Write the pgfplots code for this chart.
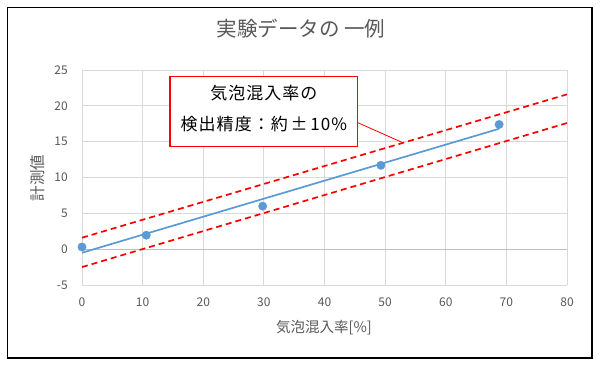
\documentclass[border=0pt]{standalone}
\usepackage{fontspec}
\setmainfont{Noto Sans CJK JP}
\newfontfamily\boxfont[LetterSpace=6]{Noto Sans CJK JP}
\usepackage{pgfplots}
\pgfplotsset{compat=1.18}
\definecolor{txtgray}{HTML}{595959}
\definecolor{gridgray}{HTML}{D9D9D9}
\definecolor{zerogray}{HTML}{BFBFBF}
\definecolor{xlblue}{HTML}{5B9BD5}
\begin{document}
\begin{tikzpicture}[x=1pt,y=1pt]
\path[fill=white] (0,0) rectangle (600,366);
\draw[black, line width=1.5pt] (7.5,8) rectangle (592,358.5);
\begin{axis}[
  at={(82pt,81pt)}, anchor=south west,
  scale only axis, width=485pt, height=215pt,
  xmin=0, xmax=80, ymin=-5, ymax=25,
  xtick={0,10,...,80}, ytick={-5,0,...,25},
  grid=major, major grid style={gridgray, line width=0.8pt},
  axis line style={draw=none}, major tick length=0pt,
  tick label style={font=\fontsize{12}{14}\selectfont, text=txtgray},
  /pgf/number format/assume math mode=true,
  yticklabel style={inner sep=0pt, xshift=-14pt},
  xticklabel style={inner sep=0pt, yshift=-13pt},
  title={実験データの 一例},
  title style={font=\fontsize{20.5}{23}\selectfont, text=txtgray, at={(axis description cs:0.4515,1.163)}, anchor=center},
  xlabel={気泡混入率[\%]},
  xlabel style={font=\fontsize{14.5}{16}\selectfont, text=txtgray, at={(axis description cs:0.499,-0.2)}, anchor=center},
  ylabel={計測値},
  ylabel style={font=\fontsize{15.5}{17}\selectfont, text=txtgray, at={(axis description cs:-0.0907,0.498)}, anchor=center},
  clip=false,
]
\addplot[zerogray, line width=1pt, forget plot] coordinates {(0,0) (80,0)};
\addplot[red, line width=1.7pt, dash pattern=on 6pt off 4pt] coordinates {(0,1.6) (80,21.6)};
\addplot[red, line width=1.7pt, dash pattern=on 6pt off 4pt] coordinates {(0,-2.5) (80,17.6)};
\addplot[xlblue, line width=1.7pt] coordinates {(0,-0.5) (68.8,16.8)};
\addplot[only marks, mark=*, mark size=4.2pt, xlblue] coordinates {
  (0,0.3) (10.6,1.95) (29.8,6.0) (49.3,11.7) (68.8,17.4)};
\draw[red, line width=0.8pt] (axis cs:45.5,17.65) -- (axis cs:52.9,14.86);
\draw[red, line width=1.2pt, fill=white] (axis cs:14.5,14.3) rectangle (axis cs:45.5,24.1);
\node[font=\fontsize{17}{20}\boxfont, text=black] at (axis cs:30,21.83) {気泡混入率の};
\node[font=\fontsize{17}{20}\boxfont, text=black] at (axis cs:30,17.47) {検出精度：約{\fontsize{17}{20}\selectfont\,±\,10\%}};
\end{axis}
\end{tikzpicture}
\end{document}
